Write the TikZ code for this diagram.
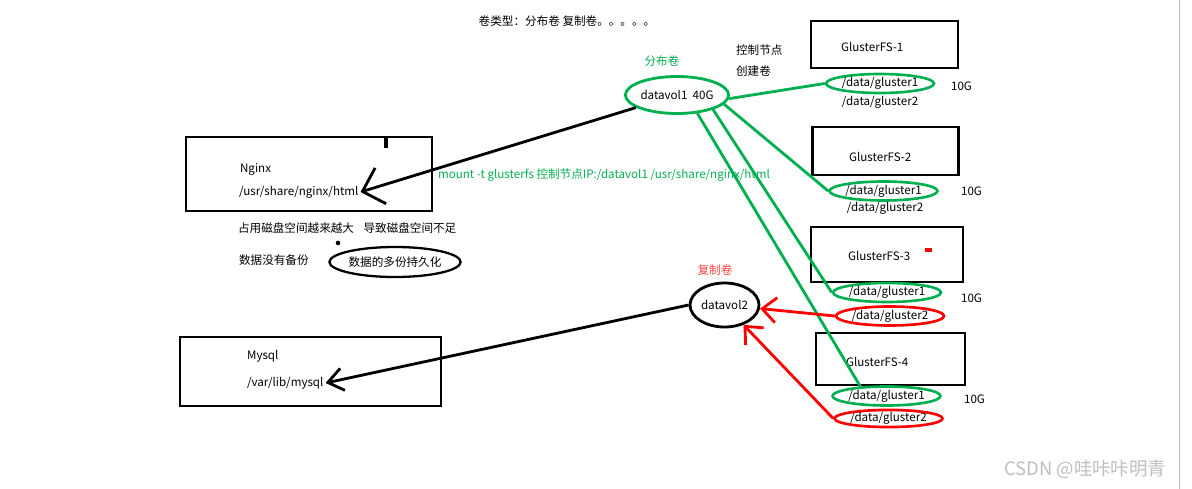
\documentclass[tikz,border=0pt]{standalone}
\usepackage{fontspec}
\setmainfont{Noto Sans CJK SC}
\usepackage{tikz}
\usetikzlibrary{arrows.meta,positioning,shapes.geometric}

\definecolor{volgreen}{RGB}{0,176,80}
\definecolor{volred}{RGB}{255,0,0}
\definecolor{marklight}{RGB}{190,190,190}

\begin{document}
\begin{tikzpicture}[x=0.02cm, y=-0.02cm,
    every node/.style={font=\fontsize{6.6}{8}\selectfont, inner sep=1pt},
    host/.style={shape=rectangle, draw=black, line width=1.6pt},
    vol/.style={shape=ellipse, line width=1.6pt, inner sep=0pt},
    brick/.style={shape=ellipse, draw=volgreen, line width=1.5pt, inner sep=0pt,
                  minimum width=1.8cm, minimum height=0.38cm},
    mirror/.style={brick, draw=volred},
    glink/.style={color=volgreen, line width=1.6pt},
    rlink/.style={color=volred, line width=1.6pt,
                  -{Straight Barb[length=0.28cm, width=0.5cm]}}]
      \useasboundingbox (0,0) rectangle (1192,489);

      \node (Title) at (567,21) {卷类型：分布卷 复制卷。。。。。};

      % clients
      \node[host, minimum width=4.92cm, minimum height=1.48cm] (Nginx) at (309,174) {};
      \node[anchor=west] (NginxName) at (238,169) {Nginx};
      \node[anchor=west] (NginxDir) at (237,192) {/usr/share/nginx/html};
      \draw[line width=2.2pt] (386,138) -- (386,148);
      \node[anchor=west] (DiskFull) at (236,228) {占用磁盘空间越来越大};
      \node[anchor=west] (DiskShort) [right = 3pt of DiskFull] {导致磁盘空间不足};
      \node[anchor=west] (NoBackup) at (237,260) {数据没有备份};
      \fill (338,243) circle (1.3pt);
      \node[shape=ellipse, draw=black, line width=1.3pt, inner sep=0pt,
            minimum width=2.3cm, minimum height=0.6cm] (Copies) at (395,262) {数据的多份持久化};

      \node[host, minimum width=5.22cm, minimum height=1.38cm] (Mysql) at (310.5,371.5) {};
      \node[anchor=west] (MysqlName) at (245,356) {Mysql};
      \node[anchor=west] (MysqlDir) at (245,383) {/var/lib/mysql};

      % volumes
      \node[vol, draw=volgreen, minimum width=1.9cm, minimum height=0.74cm] (Vol1)
           at (677,95) {datavol1\ \ 40G};
      \node[text=volgreen] (Vol1Type) at (662,61) {分布卷};
      \node[anchor=west] (Ctrl) at (734,50) {控制节点};
      \node[anchor=west] (Create) at (734,71) {创建卷};
      \node[vol, draw=black, minimum width=1.38cm, minimum height=0.88cm] (Vol2)
           at (724.5,305) {datavol2};
      \node[text=volred!75] (Vol2Type) at (715,270) {复制卷};

      \node[text=volgreen, anchor=west] (Mount) at (436,175)
           {mount -t glusterfs 控制节点IP:/datavol1 /usr/share/nginx/html};

      % servers
      \node[host, minimum width=2.94cm, minimum height=0.94cm] (Gfs1) at (884.5,44.5) {};
      \node[anchor=west] (Gfs1Name) at (839,47) {GlusterFS-1};
      \node[brick] (Gfs1A) at (880,83.5) {/data/gluster1};
      \node (Gfs1B) at (880,102) {/data/gluster2};
      \node[anchor=west] (Gfs1Size) at (949,86) {10G};

      \node[host, minimum width=2.92cm, minimum height=0.96cm] (Gfs2) at (885.5,151) {};
      \node[anchor=west] (Gfs2Name) at (847,157) {GlusterFS-2};
      \node[brick] (Gfs2A) at (883.5,191) {/data/gluster1};
      \node (Gfs2B) at (885,208) {/data/gluster2};
      \node[anchor=west] (Gfs2Size) at (959,191) {10G};

      \node[host, minimum width=3.04cm, minimum height=1.1cm] (Gfs3) at (887,254.5) {};
      \node[anchor=west] (Gfs3Name) at (846,256) {GlusterFS-3};
      \draw[volred, line width=2pt] (925,250) -- (932,250);
      \node[brick] (Gfs3A) at (887,292.5) {/data/gluster1};
      \node[mirror] (Gfs3B) at (890,316) {/data/gluster2};
      \node[anchor=west] (Gfs3Size) at (959,298) {10G};

      \node[host, minimum width=2.98cm, minimum height=1.04cm] (Gfs4) at (890.5,359) {};
      \node[anchor=west] (Gfs4Name) at (844,362) {GlusterFS-4};
      \node[brick] (Gfs4A) at (886.5,396) {/data/gluster1};
      \node[mirror, minimum height=0.34cm] (Gfs4B) at (888.5,418.5) {/data/gluster2};
      \node[anchor=west] (Gfs4Size) at (962,399) {10G};

      % mounts
      \path [line width=1.6pt, -{Straight Barb[length=0.38cm, width=0.75cm]}]
            (Vol1) edge (NginxDir.east);
      \path [line width=1.6pt, -{Straight Barb[length=0.3cm, width=0.45cm]}]
            (Vol2.west) edge (MysqlDir.east);

      % bricks
      \path [glink] (Vol1.-4) edge (Gfs1A.west)
                    (Vol1.-11) edge (Gfs2A.west)
                    (Vol1.-22) edge (Gfs3A.west)
                    (Vol1.-42) edge (Gfs4A.160);
      \path [rlink] (Gfs3B.west) edge (Vol2)
                    (Gfs4B.west) edge (Vol2);

      \node[anchor=west, text=marklight, font=\fontsize{10.5}{12}\selectfont] (Mark)
           at (1002,469) {CSDN @哇咔咔明青};
      \draw[marklight] (1179,0) -- (1179,489);
\end{tikzpicture}
\end{document}
